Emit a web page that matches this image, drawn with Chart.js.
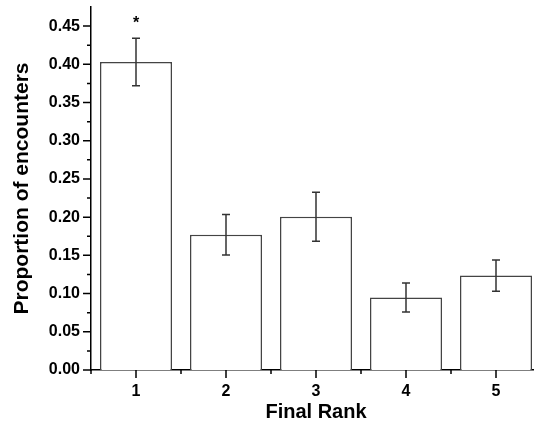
<!DOCTYPE html>
<html>
<head>
<meta charset="utf-8">
<script src="https://cdn.jsdelivr.net/npm/chart.js@4"></script>
<style>
  html, body { margin: 0; padding: 0; overflow: hidden; background: #fff; }
  #wrap { width: 534px; height: 426px; overflow: hidden; }
</style>
</head>
<body>
<div id="wrap"><canvas id="chart" width="545" height="426"></canvas></div>
<script>
// data
let ranks = ["1", "2", "3", "4", "5"];
let proportions = [0.403, 0.177, 0.2005, 0.095, 0.1235];
let errors = [0.031, 0.0264, 0.032, 0.019, 0.0205];
let marks = ["*", "", "", "", ""];
let markLevel = [0.457, null, null, null, null];

let font = "'Liberation Sans', Arial, sans-serif";

// error bars, star and the axis ticks (major + minor)
let extras = {
    id: "extras",
    afterDatasetsDraw(chart) {
        let ctx = chart.ctx;
        let x = chart.scales.x;
        let y = chart.scales.y;

        ctx.save();
        ctx.strokeStyle = "#333";
        ctx.lineWidth = 1.5;
        for (let i in proportions) {
            let cx = x.getPixelForValue(+i);
            let hi = y.getPixelForValue(proportions[i] + errors[i]);
            let lo = y.getPixelForValue(proportions[i] - errors[i]);
            ctx.beginPath();
            ctx.moveTo(cx, hi);
            ctx.lineTo(cx, lo);
            ctx.moveTo(cx - 4, hi);
            ctx.lineTo(cx + 4, hi);
            ctx.moveTo(cx - 4, lo);
            ctx.lineTo(cx + 4, lo);
            ctx.stroke();

            if (marks[i]) {
                ctx.fillStyle = "#000";
                ctx.font = "bold 16px " + font;
                ctx.textAlign = "center";
                ctx.textBaseline = "middle";
                ctx.fillText(marks[i], cx, y.getPixelForValue(markLevel[i]) + 3);
            }
        }

        ctx.strokeStyle = "#000";
        ctx.lineWidth = 1.5;
        ctx.beginPath();
        // y ticks
        let left = x.left;
        for (let k = 0; k <= 18; k++) {
            let py = y.getPixelForValue(k * 0.025);
            let len = k % 2 == 0 ? 8 : 4;
            ctx.moveTo(left, py);
            ctx.lineTo(left - len, py);
        }
        // x ticks
        let bottom = y.bottom;
        let step = x.getPixelForValue(1) - x.getPixelForValue(0);
        for (let i = 0; i < ranks.length; i++) {
            let cx = x.getPixelForValue(i);
            ctx.moveTo(cx, bottom);
            ctx.lineTo(cx, bottom + 8);
            ctx.moveTo(cx - step / 2, bottom);
            ctx.lineTo(cx - step / 2, bottom + 4);
        }
        ctx.stroke();
        ctx.restore();
    }
};

new Chart(document.getElementById("chart"), {
    type: "bar",
    data: {
        labels: ranks,
        datasets: [{
            data: proportions,
            backgroundColor: "#fff",
            borderColor: "#444",
            borderWidth: 1.5,
            categoryPercentage: 0.8,
            barPercentage: 1.0
        }]
    },
    options: {
        responsive: false,
        animation: false,
        layout: { padding: { left: 0, top: 7, right: 4, bottom: 0 } },
        plugins: {
            legend: { display: false },
            tooltip: { enabled: false }
        },
        scales: {
            x: {
                grid: { display: false, drawTicks: false },
                border: { display: true, color: "#000", width: 1.5 },
                ticks: {
                    color: "#000",
                    padding: 12,
                    font: { family: font, size: 16, weight: "bold" }
                },
                title: {
                    display: true,
                    text: "Final Rank",
                    color: "#000",
                    padding: { top: 0, bottom: 2 },
                    font: { family: font, size: 20, weight: "bold" }
                },
                afterFit(scale) {
                    scale.height = 56;
                    scale.paddingLeft = 0;
                    scale.paddingRight = 0;
                }
            },
            y: {
                min: 0,
                max: 0.475,
                grid: { display: false, drawTicks: false },
                border: { display: true, color: "#000", width: 1.5 },
                ticks: {
                    color: "#000",
                    padding: 11,
                    stepSize: 0.05,
                    font: { family: font, size: 16, weight: "bold" },
                    callback: (v) => v > 0.46 ? "" : v.toFixed(2)
                },
                title: {
                    display: true,
                    text: "Proportion of encounters",
                    color: "#000",
                    padding: { top: 10, bottom: 0 },
                    font: { family: font, size: 21, weight: "bold" }
                },
                afterFit(scale) {
                    scale.width = 91;
                    scale.paddingTop = 0;
                    scale.paddingBottom = 0;
                }
            }
        }
    },
    plugins: [extras]
});
</script>
</body>
</html>
